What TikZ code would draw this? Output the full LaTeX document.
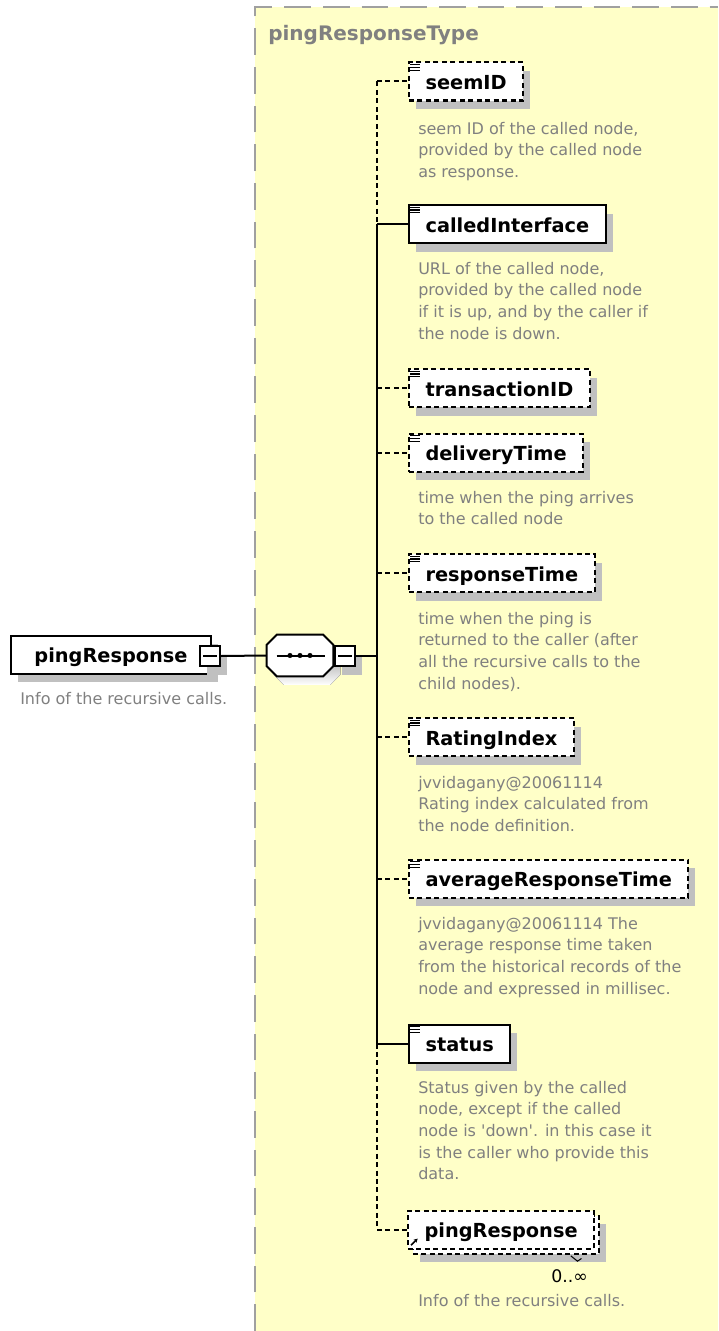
\documentclass[tikz,border=0pt]{standalone}
\usepackage{fontspec}
\setmainfont{DejaVu Sans}
\usetikzlibrary{shadows,arrows.meta}

\definecolor{typefill}{HTML}{FFFFC8}
\definecolor{typeline}{HTML}{A0A0A0}
\definecolor{annot}{HTML}{808080}
\definecolor{shade}{HTML}{C0C0C0}

\newcommand{\elemfont}{\fontsize{14.5}{17}\bfseries\selectfont}
\newcommand{\titlefont}{\fontsize{15}{18}\bfseries\selectfont}
\newcommand{\notefont}{\fontsize{12}{16.3}\selectfont}
\newcommand{\annotlines}[1]{\begin{tabular}[t]{@{}l@{}}#1\end{tabular}}
% octagon outline of a compositor node
\newcommand{\octapath}[1]{([xshift=7.5pt]#1.north west) -- ([xshift=-7.5pt]#1.north east)
  -- ([yshift=-7.5pt]#1.north east) -- ([yshift=7.5pt]#1.south east)
  -- ([xshift=-7.5pt]#1.south east) -- ([xshift=7.5pt]#1.south west)
  -- ([yshift=7.5pt]#1.south west) -- ([yshift=-7.5pt]#1.north west) -- cycle}

\begin{document}
\begin{tikzpicture}[x=0.75pt, y=-0.75pt,
  box/.style={draw, fill=white, line width=1.5pt, minimum height=28.5pt,
    inner xsep=12.4pt, inner ysep=0pt, text height=12pt, text depth=0pt,
    font=\elemfont, anchor=west},
  shadowed/.style={general shadow={fill=shade, shadow xshift=5.25pt, shadow yshift=-6.5pt}},
  optional/.style={dash pattern=on 3.75pt off 2.6pt},
  leaf/.style={box, shadowed, path picture={
      \foreach \dy in {1.7pt,3.75pt,5.8pt}
        \draw[solid, line width=0.9pt, black]
          ([xshift=1.1pt, yshift=-\dy]path picture bounding box.north west) -- ++(7pt,0);}},
  fold/.style={draw, fill=white, line width=1.1pt, minimum size=15pt, inner sep=0pt, shadowed,
    path picture={\draw[solid, line width=1.1pt]
      ([xshift=2.6pt]path picture bounding box.west) -- ([xshift=-2.6pt]path picture bounding box.east);}},
  seqbox/.style={minimum width=49.5pt, minimum height=30.75pt, inner sep=0pt},
  link/.style={line width=1.5pt},
  note/.style={anchor=base west, inner sep=0pt, font=\notefont, text=annot},
]
\useasboundingbox (0,0) rectangle (718,1331);
\fill[white] (0,0) rectangle (718,1331);

% complex type container
\fill[typefill] (255,7) rectangle (718,1331);
\draw[typeline, line width=1.5pt, dash pattern=on 20pt off 9pt] (255,1331) -- (255,7) -- (718,7);
\node[anchor=base west, inner sep=0pt, font=\titlefont, text=annot] (typename) at (268,41) {pingResponseType};

% root element and its sequence
\node[box, shadowed, minimum width=150pt] (root) at (10,654.5) {pingResponse};
\node[fold] (rootfold) at (210,656) {};
\node[note] (rootnote) at (20,704) {Info of the recursive calls.};

\node[seqbox] (seq) at (300,655.5) {};
\fill[shade, transform canvas={xshift=5.25pt, yshift=-6.4pt}] \octapath{seq};
\draw[fill=white, line width=1.5pt] \octapath{seq};
\draw[line width=1.5pt] ([xshift=7.5pt]seq.west) -- ([xshift=-6pt]seq.east);
\foreach \dx in {-7.5pt,0pt,7.5pt}
  \fill ([xshift=\dx]seq.center) circle (1.9pt);
\node[fold] (seqfold) at (345,656) {};
\coordinate (trunk) at (377,656);

% child elements
\node[leaf, optional] (seemID) at (408,81.5) {seemID};
\node[leaf] (calledInterface) at (408,224) {calledInterface};
\node[leaf, optional] (transactionID) at (408,388) {transactionID};
\node[leaf, optional] (deliveryTime) at (408,452.5) {deliveryTime};
\node[leaf, optional] (responseTime) at (408,573) {responseTime};
\node[leaf, optional] (RatingIndex) at (408,737) {RatingIndex};
\node[leaf, optional] (averageResponseTime) at (408,878.5) {averageResponseTime};
\node[leaf] (status) at (408,1043.5) {status};

% recursive reference, 0..unbounded
\node[box, shadowed, optional] (refback) at (412,1234.5) {\phantom{pingResponse}};
\node[box, optional] (ref) at (407,1229.5) {pingResponse};
\draw[line width=1.1pt, -{Stealth[length=3pt,width=3.2pt]}]
  ([xshift=3pt,yshift=3.2pt]ref.south west) -- ++(5pt,5pt);
\draw[line width=0.8pt] ([xshift=-22pt,yshift=-1pt]refback.south east) -- ++(5pt,-4pt) -- ++(3pt,2pt);
\node[anchor=base east, inner sep=0pt, font=\fontsize{13}{16}\selectfont] (refcount) at (588,1282) {0..∞};

% annotations
\node[note] (n1) at (418,134) {\annotlines{seem ID of the called node,\\provided by the called node\\as response.}};
\node[note] (n2) at (418,274) {\annotlines{URL of the called node,\\provided by the called node\\if it is up, and by the caller if\\the node is down.}};
\node[note] (n4) at (418,503) {\annotlines{time when the ping arrives\\to the called node}};
\node[note] (n5) at (418,624) {\annotlines{time when the ping is\\returned to the caller (after\\all the recursive calls to the\\child nodes).}};
\node[note] (n6) at (418,788) {\annotlines{jvvidagany@20061114\\Rating index calculated from\\the node definition.}};
\node[note] (n7) at (418,929) {\annotlines{jvvidagany@20061114 The\\average response time taken\\from the historical records of the\\node and expressed in millisec.}};
\node[note] (n8) at (418,1093) {\annotlines{Status given by the called\\node, except if the called\\node is \textquotesingle down\textquotesingle. in this case it\\is the caller who provide this\\data.}};
\node[note] (n9) at (418,1306) {Info of the recursive calls.};

% connectors
\draw[link] (rootfold.east) -- (seq.west);
\draw[link] (seqfold.east) -- (trunk);
\draw[link, optional] (trunk |- seemID.west) -- (trunk |- calledInterface.west);
\draw[link] (trunk |- calledInterface.west) -- (trunk |- status.west);
\draw[link, optional] (trunk |- status.west) -- (trunk |- ref.west);
\foreach \n in {seemID,transactionID,deliveryTime,responseTime,RatingIndex,averageResponseTime,ref}
  \draw[link, optional] (trunk |- \n.west) -- (\n.west);
\foreach \n in {calledInterface,status}
  \draw[link] (trunk |- \n.west) -- (\n.west);
\end{tikzpicture}
\end{document}
